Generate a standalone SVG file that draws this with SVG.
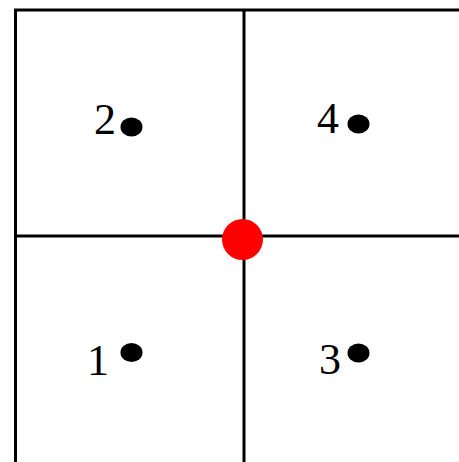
<svg xmlns="http://www.w3.org/2000/svg" width="459" height="462" viewBox="0 0 459 462">
<style>
.ln{stroke:#000;stroke-width:3;fill:none}
.lbl{font-family:"Liberation Serif","Times New Roman",serif;font-size:44px;fill:#000}
.pt{fill:#000}
</style>
<rect width="459" height="462" fill="#fff"/>
<g id="connectors">
<path class="ln" d="M15.5,462 V10 H459"/>
<path class="ln" d="M244,10 V462"/>
<path class="ln" d="M15.5,236 H459"/>
</g>
<g id="node-2"><text class="lbl" x="94" y="134">2</text><ellipse class="pt" cx="131.5" cy="127" rx="11" ry="9.5"/></g>
<g id="node-4"><text class="lbl" x="317" y="133">4</text><ellipse class="pt" cx="358.5" cy="124" rx="11" ry="9.5"/></g>
<g id="node-1"><text class="lbl" x="87" y="375">1</text><ellipse class="pt" cx="131.5" cy="352.5" rx="11" ry="9.5"/></g>
<g id="node-3"><text class="lbl" x="319" y="374">3</text><ellipse class="pt" cx="358.5" cy="353" rx="11" ry="9.5"/></g>
<g id="center"><circle cx="242.5" cy="239.5" r="20.5" fill="#f00"/></g>
</svg>
